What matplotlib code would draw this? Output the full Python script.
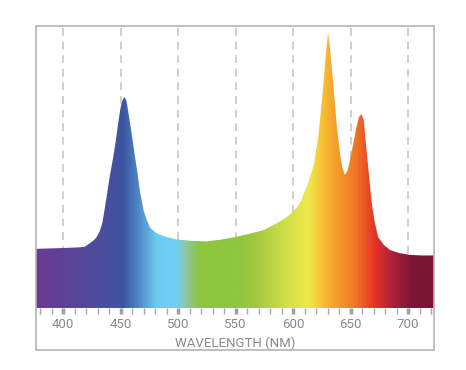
import numpy as np
import matplotlib
matplotlib.use("Agg")
from matplotlib import pyplot as plt
from matplotlib.colors import LinearSegmentedColormap
from matplotlib.patches import Rectangle
from matplotlib.ticker import MultipleLocator

# spectrum (relative intensity, yellow peak = 100)
wavelength = [376.5, 400, 412, 418.5, 423.5, 427, 429.3, 432, 434.2, 436.5, 438.8, 441,
              443.7, 446, 448, 450, 451.5, 453.3, 455, 456.5, 458.2, 460.5, 462.6, 465,
              467, 470, 472.8, 476, 480, 484, 490, 499, 512, 525, 538, 551, 568, 575,
              588, 596, 603, 607, 610, 614, 618, 622, 626, 628.5, 630.5, 632.5, 635,
              638, 641, 643, 645, 647, 649, 652, 655, 657.5, 659.5, 661.5, 663.5, 666,
              668.4, 671, 674, 679, 684.3, 692, 701.7, 712, 722.6]
intensity = [21.5, 21.8, 22.0, 22.2, 23.6, 24.7, 25.8, 28.0, 30.9, 36.7, 42.9, 48.7,
             54.9, 61.1, 67.3, 72.7, 75.3, 76.7, 75.6, 72.0, 67.3, 61.1, 54.9, 48.4,
             42.2, 35.6, 32.0, 29.1, 27.6, 26.7, 25.8, 24.9, 24.4, 24.2, 24.9, 25.9, 27.6, 28.4,
             31.3, 33.5, 36.4, 39.0, 42.2, 46.5, 52.0, 62.2, 79.3, 92.0, 100.0, 93.1, 81.1,
             66.5, 55.6, 50.9, 48.4, 49.5, 52.7, 58.9, 65.5, 69.5, 70.5, 68.4, 59.3, 48.4,
             38.2, 31.3, 25.8, 22.9, 21.1, 20.0, 19.3, 19.1, 19.1]

major_ticks = [400, 450, 500, 550, 600, 650, 700]
xlabel = "WAVELENGTH (NM)"

# colour of the band at a given wavelength
band_nm = [376.5, 405, 434, 452, 463, 481, 498, 507, 518, 550, 567, 593, 614,
           626, 637, 654, 672, 686, 704, 722.6]
band_col = ["#6b3a96", "#5a4497", "#4a4e9e", "#3d55a0", "#4d7fc0", "#6ccbf0", "#70cff2",
            "#8ec7a0", "#8dc63f", "#8dc63f", "#a0c840", "#d0df48", "#f0e84a",
            "#f7c234", "#f6a02c", "#f07a26", "#e43226", "#b0223a", "#7c1535", "#7a1535"]

xmin, xmax = 376.5, 722.6
ytop = 102.5

fig = plt.figure(figsize=(4.66, 3.70), dpi=100)
fig.patch.set_facecolor("white")

# grey frame round the whole chart
fig.patches.append(Rectangle((36 / 466, 20 / 370), 398 / 466, 324 / 370,
                             transform=fig.transFigure, fill=False,
                             edgecolor="#b4b4b4", linewidth=1.2))

ax = fig.add_axes([36 / 466, 62 / 370, 398 / 466, 282 / 370])
ax.set_xlim(xmin, xmax)
ax.set_ylim(0, ytop)

for t in major_ticks:
    ax.axvline(t, color="#cfcfcf", linewidth=1.4, linestyle=(0, (4, 3)), zorder=1)

pos = [(v - xmin) / (xmax - xmin) for v in band_nm]
cmap = LinearSegmentedColormap.from_list("band", list(zip(pos, band_col)))
grad = np.linspace(0, 1, 600).reshape(1, -1)
im = ax.imshow(grad, cmap=cmap, aspect="auto", extent=[xmin, xmax, 0, ytop],
               interpolation="bilinear", zorder=2)
poly = ax.fill_between(wavelength, 0, intensity, facecolor="none", edgecolor="none")
im.set_clip_path(poly.get_paths()[0], transform=ax.transData)

for s in ax.spines.values():
    s.set_visible(False)
ax.set_yticks([])
ax.set_xticks(major_ticks)
ax.xaxis.set_minor_locator(MultipleLocator(10))
ax.tick_params(axis="x", which="major", length=4, width=2.5, color="#a0a0a0",
               labelsize=9.5, labelcolor="#8a8a8a", pad=3)
ax.tick_params(axis="x", which="minor", length=4, width=1, color="#a8a8a8")
for lab in ax.get_xticklabels():
    lab.set_fontfamily("Roboto")
ax.set_xlabel(xlabel, fontsize=9.5, color="#8a8a8a", labelpad=4, fontfamily="Roboto")

fig.savefig("out.png", dpi=100, facecolor="white")
